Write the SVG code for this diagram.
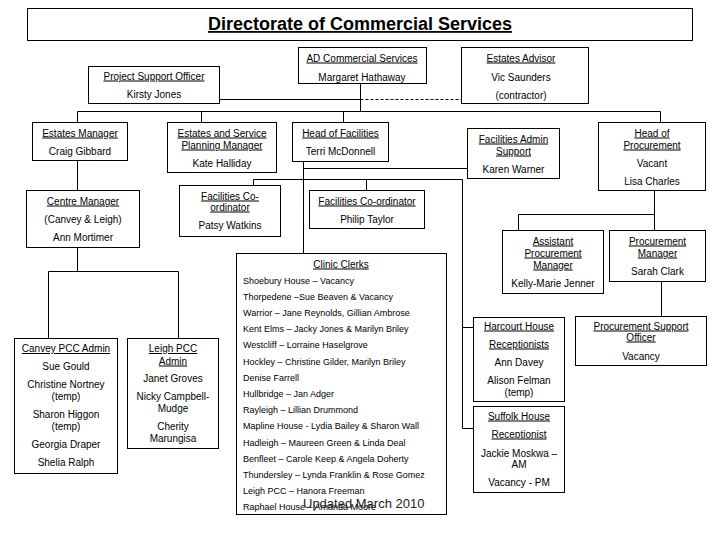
<svg xmlns="http://www.w3.org/2000/svg" width="720" height="540" viewBox="0 0 720 540">
<style>
.box{fill:#fff;stroke:#000;stroke-width:1}
.ln{fill:none;stroke:#000;stroke-width:1}
.dash{fill:none;stroke:#000;stroke-width:1;stroke-dasharray:3,2}
text{font-family:"Liberation Sans",Arial,sans-serif;font-size:10px;fill:#000;text-anchor:middle}
.u{text-decoration:underline}
.c{font-size:9px;text-anchor:start}
.title{font-size:18px;font-weight:bold;text-decoration:underline}
.upd{font-size:13px;text-anchor:start;fill:#222}
</style>
<rect width="720" height="540" fill="#fff"/>
<g id="connectors">
<path class="ln" d="M219 99.5H360.5M360.5 83V111.5M77.5 111.5H660.5M77.5 111.5V122M201.5 111.5V122M343.5 111.5V122M660.5 111.5V122"/>
<path class="dash" d="M360.5 99.5H461"/>
<path class="ln" d="M77.5 160V190M77.5 247V271.5M48.5 271.5H178.5M48.5 271.5V338M178.5 271.5V338"/>
<path class="ln" d="M303.5 161V253M303.5 168.5H467M253.5 179.5H462.5M253.5 179.5V185M366.5 179.5V190M462.5 179.5V428.5M462.5 327.5H473M462.5 428.5H473"/>
<path class="ln" d="M654.5 190V230M518.5 214.5H654.5M518.5 214.5V230M661.5 281V316"/>
</g>
<g id="title"><rect class="box" x="27.5" y="8.5" width="665" height="32"/><text class="title" x="360" y="30">Directorate of Commercial Services</text></g>
<g id="ad"><rect class="box" x="298.5" y="47.5" width="128" height="36"/><text class="u" x="362" y="61.5">AD Commercial Services</text><text x="362" y="80.5">Margaret Hathaway</text></g>
<g id="estates-advisor"><rect class="box" x="461.5" y="47.5" width="127" height="56"/><text class="u" x="521" y="61.5">Estates Advisor</text><text x="521" y="80.5">Vic Saunders</text><text x="521" y="98.5">(contractor)</text></g>
<g id="pso"><rect class="box" x="88.5" y="66.5" width="131" height="37"/><text class="u" x="154" y="79.5">Project Support Officer</text><text x="154" y="97.5">Kirsty Jones</text></g>
<g id="estates-manager"><rect class="box" x="32.5" y="122.5" width="95" height="38"/><text class="u" x="80" y="136.5">Estates Manager</text><text x="80" y="154.5">Craig Gibbard</text></g>
<g id="espm"><rect class="box" x="167.5" y="122.5" width="109" height="50"/><text class="u" x="222" y="136.5">Estates and Service</text><text class="u" x="222" y="148.5">Planning Manager</text><text x="222" y="166.5">Kate Halliday</text></g>
<g id="hof"><rect class="box" x="292.5" y="122.5" width="96" height="39"/><text class="u" x="340.5" y="136.5">Head of Facilities</text><text x="340.5" y="154.5">Terri McDonnell</text></g>
<g id="fas"><rect class="box" x="467.5" y="128.5" width="92" height="50"/><text class="u" x="513.5" y="142.5">Facilities Admin</text><text class="u" x="513.5" y="154.5">Support</text><text x="513.5" y="172.5">Karen Warner</text></g>
<g id="hop"><rect class="box" x="598.5" y="122.5" width="107" height="68"/><text class="u" x="652" y="136.5">Head of</text><text class="u" x="652" y="148.5">Procurement</text><text x="652" y="166.5">Vacant</text><text x="652" y="184.5">Lisa Charles</text></g>
<g id="centre-manager"><rect class="box" x="26.5" y="190.5" width="113" height="57"/><text class="u" x="83" y="204.5">Centre Manager</text><text x="83" y="222.5">(Canvey &amp; Leigh)</text><text x="83" y="240.5">Ann Mortimer</text></g>
<g id="fc-patsy"><rect class="box" x="179.5" y="185.5" width="101" height="51"/><text class="u" x="230" y="199.5">Facilities Co-</text><text class="u" x="230" y="210.5">ordinator</text><text x="230" y="228.5">Patsy Watkins</text></g>
<g id="fc-philip"><rect class="box" x="309.5" y="190.5" width="115" height="38"/><text class="u" x="367" y="204.5">Facilities Co-ordinator</text><text x="367" y="222.5">Philip Taylor</text></g>
<g id="apm"><rect class="box" x="502.5" y="230.5" width="101" height="63"/><text class="u" x="553" y="244.5">Assistant</text><text class="u" x="553" y="256.5">Procurement</text><text class="u" x="553" y="268.5">Manager</text><text x="553" y="286.5">Kelly-Marie Jenner</text></g>
<g id="pm"><rect class="box" x="609.5" y="230.5" width="96" height="51"/><text class="u" x="657.5" y="244.5">Procurement</text><text class="u" x="657.5" y="256.5">Manager</text><text x="657.5" y="274.5">Sarah Clark</text></g>
<g id="clinic-clerks"><rect class="box" x="236.5" y="253.5" width="210" height="261"/><text class="u" x="341" y="267.5">Clinic Clerks</text>
<text class="c" x="243" y="283.5">Shoebury House – Vacancy</text>
<text class="c" x="243" y="299.7">Thorpedene –Sue Beaven &amp; Vacancy</text>
<text class="c" x="243" y="315.9">Warrior – Jane Reynolds, Gillian Ambrose</text>
<text class="c" x="243" y="332.1">Kent Elms – Jacky Jones &amp; Marilyn Briley</text>
<text class="c" x="243" y="348.3">Westcliff – Lorraine Haselgrove</text>
<text class="c" x="243" y="364.5">Hockley – Christine Gilder, Marilyn Briley</text>
<text class="c" x="243" y="380.7">Denise Farrell</text>
<text class="c" x="243" y="396.9">Hullbridge – Jan Adger</text>
<text class="c" x="243" y="413.1">Rayleigh – Lillian Drummond</text>
<text class="c" x="243" y="429.3">Mapline House - Lydia Bailey &amp; Sharon Wall</text>
<text class="c" x="243" y="445.5">Hadleigh – Maureen Green &amp; Linda Deal</text>
<text class="c" x="243" y="461.7">Benfleet – Carole Keep &amp; Angela Doherty</text>
<text class="c" x="243" y="477.9">Thundersley – Lynda Franklin &amp; Rose Gomez</text>
<text class="c" x="243" y="494.1">Leigh PCC – Hanora Freeman</text>
<text class="c" x="243" y="510.3">Raphael House – Amanda Moore</text>
</g>
<g id="canvey"><rect class="box" x="14.5" y="338.5" width="103" height="135"/><text class="u" x="66" y="352">Canvey PCC Admin</text><text x="66" y="369.5">Sue Gould</text><text x="66" y="387.5">Christine Nortney</text><text x="66" y="399.5">(temp)</text><text x="66" y="417.5">Sharon Higgon</text><text x="66" y="429.5">(temp)</text><text x="66" y="447.5">Georgia Draper</text><text x="66" y="465.5">Shelia Ralph</text></g>
<g id="leigh"><rect class="box" x="127.5" y="338.5" width="91" height="110"/><text class="u" x="173" y="352">Leigh PCC</text><text class="u" x="173" y="364.5">Admin</text><text x="173" y="381.5">Janet Groves</text><text x="173" y="399.5">Nicky Campbell-</text><text x="173" y="411.5">Mudge</text><text x="173" y="429.5">Cherity</text><text x="173" y="441.5">Marungisa</text></g>
<g id="harcourt"><rect class="box" x="473.5" y="317.5" width="91" height="84"/><text class="u" x="519" y="329.5">Harcourt House</text><text class="u" x="519" y="347.5">Receptionists</text><text x="519" y="365.5">Ann Davey</text><text x="519" y="383.5">Alison Felman</text><text x="519" y="395.5">(temp)</text></g>
<g id="suffolk"><rect class="box" x="473.5" y="406.5" width="91" height="86"/><text class="u" x="519" y="419.5">Suffolk House</text><text class="u" x="519" y="437.5">Receptionist</text><text x="519" y="456.5">Jackie Moskwa –</text><text x="519" y="467.5">AM</text><text x="519" y="485.5">Vacancy - PM</text></g>
<g id="pso2"><rect class="box" x="575.5" y="316.5" width="131" height="49"/><text class="u" x="641" y="329.5">Procurement Support</text><text class="u" x="641" y="340.5">Officer</text><text x="641" y="359.5">Vacancy</text></g>
<text class="upd" x="303" y="508">Updated March 2010</text>
</svg>
